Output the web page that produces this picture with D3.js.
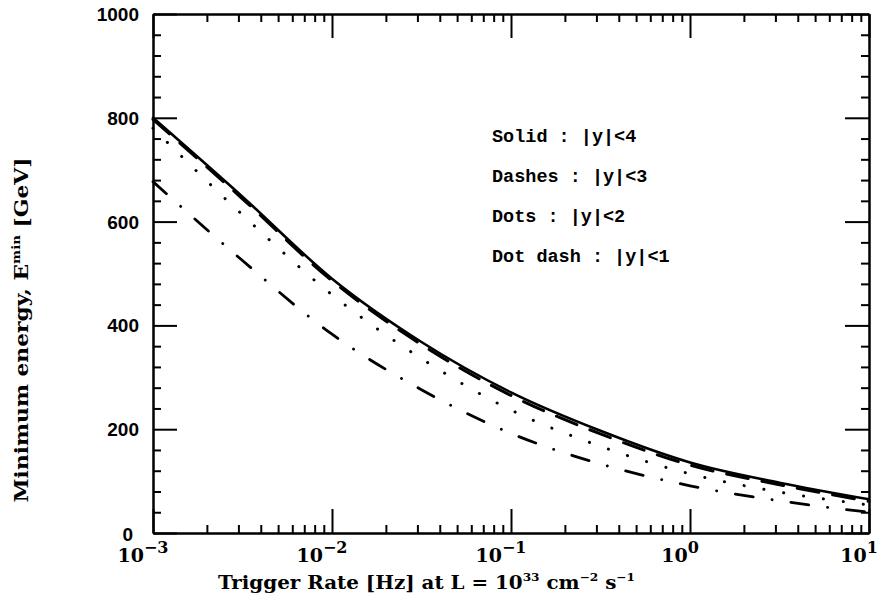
<!DOCTYPE html>
<html>
<head>
<meta charset="utf-8">
<script src="https://cdn.jsdelivr.net/npm/d3@7.9.0/dist/d3.min.js"></script>
<style>
  body { margin: 0; background: #fff; }
  svg { display: block; }
  .lbl { font-family: "DejaVu Serif", serif; font-weight: bold; fill: #000; }
  .leg { font-family: "Liberation Mono", monospace; font-weight: bold; font-size: 18.5px; fill: #000; }
  .axis path, .axis line { stroke: #000; stroke-width: 2; }
</style>
</head>
<body>
<svg id="chart" width="877" height="599"></svg>
<script>
// trigger rate (Hz), half-decade steps
const rates = [0.001, 0.00316, 0.01, 0.0316, 0.1, 0.316, 1, 3.16, 10];
// minimum energy (GeV) for each rapidity cut
const solidY4 = [800, 648, 490, 368, 271, 197, 136, 97, 65];
const dashesY3 = [797, 644, 486, 363, 265, 191, 131, 93, 61];
const dotsY2 = [780, 613, 459, 336, 237, 167, 114, 79, 54];
const dotDashY1 = [677, 525, 383, 276, 192, 133, 91, 62, 40];

const xMajor = [1e-3, 1e-2, 1e-1, 1e0, 1e1];
const xExp = ['-3', '-2', '-1', '0', '1'];
const yMajor = [0, 200, 400, 600, 800, 1000];
const legendText = ['Solid : |y|<4', 'Dashes : |y|<3', 'Dots : |y|<2', 'Dot dash : |y|<1'];

const svg = d3.select('#chart');
const x = d3.scaleLog().domain([1e-3, 10]).range([153, 869]);
const y = d3.scaleLinear().domain([0, 1000]).range([533, 14]);

let xMinor = [];
for (let e = -3; e < 1; e++) {
  for (let k = 2; k <= 9; k++) xMinor.push(k * Math.pow(10, e));
}
let yMinor = d3.range(0, 1001, 40).filter(v => v % 200 !== 0);

function addAxis(gen, tr) {
  svg.append('g').attr('class', 'axis').attr('transform', tr).call(gen)
    .call(g => g.selectAll('text').remove());
}

// bottom / top
addAxis(d3.axisBottom(x).tickValues(xMajor).tickSize(-24).tickSizeOuter(0), 'translate(0,533)');
addAxis(d3.axisBottom(x).tickValues(xMinor).tickSize(-8).tickSizeOuter(0), 'translate(0,533)');
addAxis(d3.axisTop(x).tickValues(xMajor).tickSize(-24).tickSizeOuter(0), 'translate(0,14)');
addAxis(d3.axisTop(x).tickValues(xMinor).tickSize(-8).tickSizeOuter(0), 'translate(0,14)');
// left / right
addAxis(d3.axisLeft(y).tickValues(yMajor).tickSize(-24).tickSizeOuter(0), 'translate(153,0)');
addAxis(d3.axisLeft(y).tickValues(yMinor).tickSize(-8).tickSizeOuter(0), 'translate(153,0)');
addAxis(d3.axisRight(y).tickValues(yMajor).tickSize(-24).tickSizeOuter(0), 'translate(869,0)');
addAxis(d3.axisRight(y).tickValues(yMinor).tickSize(-8).tickSizeOuter(0), 'translate(869,0)');

// y tick labels
yMajor.forEach(v => {
  svg.append('text').attr('class', 'lbl')
    .attr('x', v === 0 ? 133 : 139)
    .attr('y', y(v) + (v === 0 ? 8 : 7))
    .attr('text-anchor', 'end')
    .style('font-size', '19px')
    .style('font-family', '"Liberation Sans", sans-serif')
    .text(v);
});

// x tick labels 10^n
xMajor.forEach((v, i) => {
  let t = svg.append('text').attr('class', 'lbl')
    .attr('x', x(v) - 10).attr('y', 562)
    .attr('text-anchor', 'middle')
    .style('font-size', '19px');
  t.append('tspan').text('10');
  t.append('tspan').attr('dy', -9).style('font-size', '16px').text(xExp[i].replace('-', '\u2212'));
});

// curves
const line = d3.line().x((d, i) => x(rates[i])).y(d => y(d)).curve(d3.curveMonotoneX);
const series = [
  { vals: solidY4, w: 2.6, dash: null },
  { vals: dashesY3, w: 3, dash: '22,14' },
  { vals: dotsY2, w: 3, dash: '0.1,20' },
  { vals: dotDashY1, w: 2.8, dash: '18,19,0.1,19' }
];
series.forEach(s => {
  svg.append('path').attr('d', line(s.vals))
    .attr('fill', 'none').attr('stroke', '#000')
    .attr('stroke-width', s.w)
    .attr('stroke-linecap', 'round')
    .attr('stroke-dasharray', s.dash);
});

// legend text
legendText.forEach((t, i) => {
  svg.append('text').attr('class', 'leg')
    .attr('x', 492).attr('y', 142 + i * 40)
    .text(t);
});

// axis titles
let xt = svg.append('text').attr('class', 'lbl')
  .attr('x', 218).attr('y', 589).style('font-size', '18px')
  .attr('textLength', 417).attr('lengthAdjust', 'spacingAndGlyphs');
xt.append('tspan').text('Trigger Rate [Hz] at L = 10');
xt.append('tspan').attr('dy', -8).style('font-size', '11px').text('33');
xt.append('tspan').attr('dy', 8).text(' cm');
xt.append('tspan').attr('dy', -8).style('font-size', '11px').text('\u22122');
xt.append('tspan').attr('dy', 8).text(' s');
xt.append('tspan').attr('dy', -8).style('font-size', '11px').text('\u22121');

let yt = svg.append('text').attr('class', 'lbl')
  .attr('transform', 'translate(28,330) rotate(-90)')
  .attr('text-anchor', 'middle').style('font-size', '18px')
  .attr('textLength', 345).attr('lengthAdjust', 'spacingAndGlyphs');
yt.append('tspan').text('Minimum energy, E');
yt.append('tspan').attr('dy', -8).style('font-size', '11px').text('min');
yt.append('tspan').attr('dy', 8).text(' [GeV]');
</script>
</body>
</html>
